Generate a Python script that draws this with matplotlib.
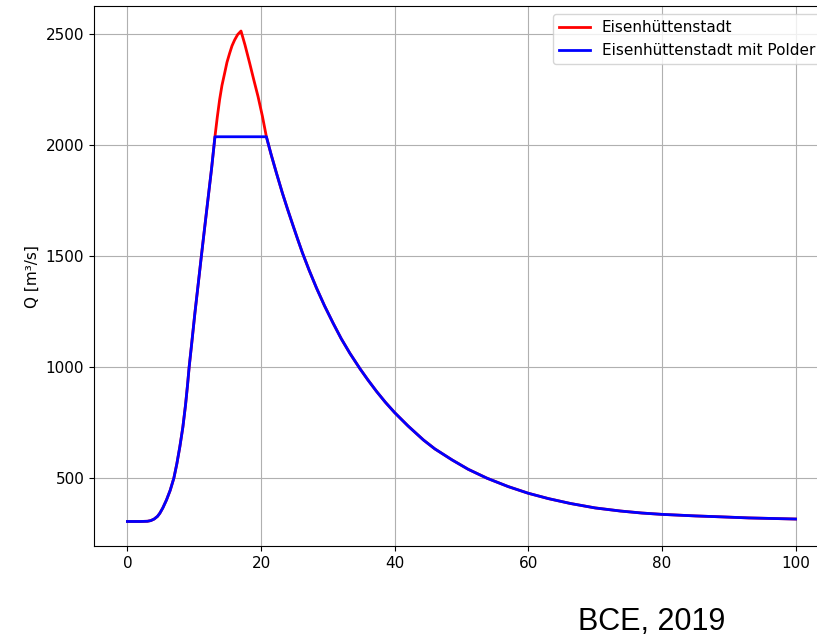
import matplotlib.pyplot as plt

# rising limb (same for both series)
t_rise = [0, 1, 2, 3, 3.5, 4.0, 4.5, 4.85, 5.3, 5.85, 6.4, 6.95, 7.4, 7.85, 8.3, 8.7,
          9.0, 9.24, 9.6, 10.1, 10.6, 11.07, 11.55, 12.05, 12.6, 13.1]
q_rise = [305, 305, 305, 306, 309, 316, 328, 342, 366, 402, 445, 500, 565, 642, 730, 830,
          920, 1000, 1100, 1243, 1375, 1500, 1625, 1754, 1895, 2037]

# peak without polder
t_peak = [13.45, 13.8, 14.15, 14.55, 14.9, 15.3, 15.65, 16.05, 16.5, 17.0,
          17.6, 18.3, 18.9, 19.55, 20.2]
q_peak = [2125, 2204, 2268, 2323, 2372, 2413, 2446, 2473, 2497, 2513,
          2450, 2368, 2295, 2218, 2130]

# falling limb (same for both series)
t_fall = [20.8, 21.5, 22.3, 23.2, 24.0, 24.8, 25.5, 26.2, 27.2, 28.3, 29.5, 30.8, 32.0,
          33.3, 34.8, 36.0, 37.3, 38.6, 40.0, 42.0, 44.3, 46.0, 48.6, 51, 53.8, 57, 60,
          63, 66.3, 70, 73.8, 77, 80, 85, 88.7, 93, 100]
q_fall = [2037, 1958, 1874, 1783, 1708, 1636, 1574, 1514, 1436, 1356, 1276, 1197, 1128,
          1062, 993, 942, 890, 842, 795, 735, 672, 632, 582, 540, 500, 462, 432,
          408, 386, 366, 352, 343, 337, 330, 326, 321, 316]

t_red = t_rise + t_peak + t_fall
q_red = q_rise + q_peak + q_fall
t_blue = t_rise + t_fall
q_blue = q_rise + q_fall

fig = plt.figure(figsize=(8.17, 6.37), dpi=100)
ax = fig.add_axes([94 / 817, 91 / 637, 735 / 817, 539.5 / 637])
ax.plot(t_red, q_red, color='red', lw=2, label='Eisenhüttenstadt')
ax.plot(t_blue, q_blue, color='blue', lw=2, label='Eisenhüttenstadt mit Polder')
ax.set_ylabel('Q [m³/s]', fontsize=11)
ax.tick_params(labelsize=11)
ax.spines['right'].set_visible(False)
ax.grid(True)
ax.legend(loc='upper right', fontsize=11)

fig.text(578 / 817, 6.5 / 637, 'BCE, 2019', fontsize=22, family='Liberation Sans',
         va='baseline', ha='left')

fig.savefig('out.png', dpi=100)
